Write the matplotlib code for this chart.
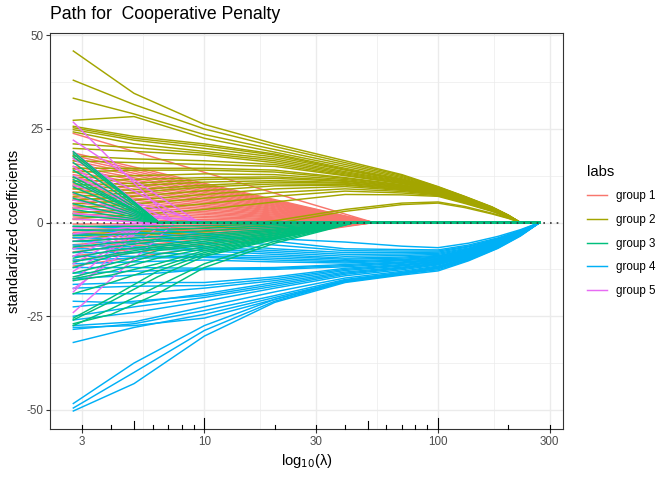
import numpy as np
import matplotlib.pyplot as plt
from matplotlib.lines import Line2D
import matplotlib.transforms as mtransforms

plt.rcParams['font.family'] = ['Liberation Sans', 'DejaVu Sans']
plt.rcParams['axes.unicode_minus'] = False

groups = ['group 1', 'group 2', 'group 3', 'group 4', 'group 5']
colours = ['#F8766D', '#A3A500', '#00BF7D', '#00B0F6', '#E76BF3']

lam_start = 2.75
lam_end = 272.0

# group 1: straight fans, all reach zero at red_zero
red_start = [23.8, 18.6, 17.9, 17.2, 16.5, 15.8, 15.0, 14.3, 13.5, 12.8, 12.0,
             11.2, 10.5, 9.7, 9.0, 8.2, 7.5, 6.7, 6.0, 5.2, 4.5, 3.8, 3.0, 2.3,
             1.5, 0.8, -0.4, -1.1, -1.9, -2.6, -3.4, -4.2, -5.0, -5.9, -6.8,
             -7.8, -8.9, -10.1, -11.6]
red_zero = 53.0

# group 2: values at olive_knots
olive_knots = [2.75, 5, 10, 20, 40, 70, 100, 130, 170, 200, 225]
olive_vals = [
    [45.8, 34.5, 26.2, 21.0, 16.5, 12.8, 9.6, 7.0, 4.2, 2.0, 0],
    [38.0, 31.5, 25.0, 20.3, 16.0, 12.6, 9.5, 6.9, 4.1, 1.9, 0],
    [33.2, 29.0, 23.5, 19.5, 15.5, 12.3, 9.4, 6.9, 4.1, 1.9, 0],
    [27.3, 28.3, 22.5, 18.8, 15.0, 12.0, 9.3, 6.8, 4.0, 1.9, 0],
    [25.7, 23.0, 21.0, 18.3, 14.5, 11.7, 9.2, 6.7, 4.0, 1.8, 0],
    [25.3, 22.5, 20.5, 18.0, 14.2, 11.5, 9.1, 6.6, 3.9, 1.8, 0],
    [24.8, 22.0, 19.8, 17.5, 14.0, 11.3, 9.0, 6.6, 3.9, 1.8, 0],
    [24.2, 21.0, 19.0, 17.0, 13.6, 11.1, 8.9, 6.5, 3.8, 1.8, 0],
    [21.0, 20.0, 18.5, 16.5, 13.3, 10.9, 8.8, 6.4, 3.8, 1.8, 0],
    [19.8, 19.0, 18.0, 16.0, 13.0, 10.7, 8.7, 6.4, 3.7, 1.7, 0],
    [17.8, 17.0, 16.5, 15.5, 12.7, 10.5, 8.6, 6.3, 3.7, 1.7, 0],
    [16.5, 16.0, 15.5, 15.0, 12.5, 10.4, 8.5, 6.2, 3.7, 1.7, 0],
    [14.5, 14.5, 14.5, 14.0, 12.0, 10.1, 8.4, 6.1, 3.6, 1.7, 0],
    [13.5, 14.0, 14.0, 13.5, 11.8, 10.0, 8.3, 6.1, 3.6, 1.7, 0],
    [12.0, 12.5, 13.0, 12.8, 11.5, 9.8, 8.2, 6.0, 3.5, 1.6, 0],
    [11.0, 11.5, 12.0, 12.2, 11.2, 9.6, 8.1, 5.9, 3.5, 1.6, 0],
    [10.0, 10.5, 11.5, 11.8, 11.0, 9.5, 8.0, 5.8, 3.4, 1.6, 0],
    [9.0, 9.8, 10.8, 11.2, 10.7, 9.3, 7.9, 5.8, 3.4, 1.6, 0],
    [8.0, 8.8, 10.0, 10.8, 10.5, 9.1, 7.8, 5.7, 3.4, 1.6, 0],
    [7.0, 8.0, 9.5, 10.3, 10.2, 8.9, 7.7, 5.6, 3.3, 1.5, 0],
    [6.0, 7.0, 8.5, 9.8, 10.0, 8.8, 7.6, 5.5, 3.3, 1.5, 0],
    [5.0, 6.0, 7.5, 9.0, 9.6, 8.6, 7.5, 5.5, 3.2, 1.5, 0],
    [4.0, 5.0, 6.5, 8.0, 9.0, 8.3, 7.4, 5.4, 3.2, 1.5, 0],
    [2.5, 3.5, 5.0, 7.0, 8.4, 7.9, 7.2, 5.3, 3.1, 1.4, 0],
    [1.0, 2.0, 3.5, 5.5, 7.5, 7.4, 7.0, 5.1, 3.0, 1.4, 0],
    [-3.0, -2.5, -1.5, 0.5, 3.5, 5.2, 5.5, 4.3, 2.5, 1.2, 0],
    [-4.0, -3.5, -2.5, -0.3, 3.0, 4.8, 5.2, 4.0, 2.3, 1.1, 0],
]

# group 3: a fast fan (zero near 6.4) and a slow set with values at green_knots
green_fast_start = [18.9, 18.3, 17.6, 16.0, 14.0, 12.2, 11.5, 10.8, 9.5, 8.0,
                    6.5, 5.0, 3.5, 2.0]
green_fast_zero = 6.4
green_knots = [2.75, 4, 6.3, 10, 20, 44]
green_vals = [
    [-27.5, -23.0, -17.0, -11.0, -5.0, 0],
    [-27.0, -24.5, -19.0, -12.0, -5.5, 0],
    [-26.0, -21.0, -14.5, -9.0, -4.5, 0],
    [-25.5, -20.0, -13.0, -8.5, -4.3, 0],
    [-19.0, -16.0, -12.0, -8.0, -4.1, 0],
    [-15.5, -14.0, -11.0, -7.5, -4.0, 0],
    [-15.0, -13.0, -9.5, -7.0, -3.8, 0],
    [-14.5, -12.0, -8.5, -6.5, -3.5, 0],
    [-13.5, -11.0, -7.5, -6.0, -3.3, 0],
    [-12.0, -9.0, -7.0, -5.5, -3.0, 0],
    [-10.5, -8.5, -6.5, -5.0, -2.8, 0],
    [-9.5, -7.5, -6.0, -4.5, -2.5, 0],
    [-8.0, -6.5, -5.0, -4.0, -2.2, 0],
    [-6.5, -5.5, -4.5, -3.5, -2.0, 0],
    [-5.0, -4.5, -3.8, -3.0, -1.7, 0],
    [-3.5, -3.2, -2.8, -2.2, -1.3, 0],
    [-2.0, -2.0, -1.8, -1.5, -0.9, 0],
    [-1.0, -1.0, -1.0, -0.8, -0.5, 0],
]

# group 4: values at blue_knots
blue_knots = [2.75, 5, 10, 20, 40, 70, 100, 135, 180, 225, 272]
blue_vals = [
    [-50.3, -43.0, -30.3, -21.3, -16.0, -14.0, -12.9, -10.2, -6.9, -3.6, 0],
    [-49.5, -40.0, -28.8, -21.0, -15.7, -13.7, -12.6, -10.0, -6.8, -3.5, 0],
    [-48.3, -37.5, -27.5, -20.5, -15.4, -13.4, -12.3, -9.8, -6.6, -3.4, 0],
    [-32.0, -28.0, -24.5, -20.0, -15.5, -13.6, -12.0, -9.6, -6.5, -3.3, 0],
    [-28.5, -27.0, -23.5, -19.5, -15.2, -13.3, -11.8, -9.4, -6.4, -3.3, 0],
    [-28.0, -27.5, -25.5, -20.5, -15.8, -13.8, -12.1, -9.7, -6.5, -3.4, 0],
    [-27.5, -26.5, -22.5, -18.5, -14.8, -13.0, -11.6, -9.3, -6.3, -3.2, 0],
    [-26.0, -24.0, -21.0, -17.5, -14.2, -12.6, -11.3, -9.1, -6.2, -3.2, 0],
    [-25.0, -22.5, -20.0, -17.0, -13.8, -12.3, -11.1, -9.0, -6.1, -3.1, 0],
    [-22.5, -21.0, -19.5, -16.5, -13.5, -12.1, -10.9, -8.8, -6.0, -3.1, 0],
    [-21.0, -21.5, -19.0, -16.0, -13.2, -11.9, -10.8, -8.7, -5.9, -3.0, 0],
    [-19.0, -19.0, -17.5, -15.5, -12.8, -11.6, -10.6, -8.6, -5.8, -3.0, 0],
    [-17.5, -17.0, -16.8, -15.0, -12.5, -11.4, -10.4, -8.4, -5.7, -2.9, 0],
    [-16.5, -16.0, -16.0, -14.5, -12.2, -11.2, -10.3, -8.3, -5.6, -2.9, 0],
    [-15.0, -14.0, -12.5, -12.5, -11.8, -10.9, -10.1, -8.2, -5.5, -2.8, 0],
    [-13.5, -13.0, -12.5, -12.2, -11.5, -10.7, -9.9, -8.0, -5.4, -2.8, 0],
    [-12.0, -12.0, -12.2, -12.0, -11.2, -10.5, -9.8, -7.9, -5.4, -2.8, 0],
    [-11.0, -10.5, -10.0, -10.5, -10.8, -10.2, -9.6, -7.8, -5.3, -2.7, 0],
    [-10.0, -9.5, -9.3, -10.0, -10.5, -10.0, -9.4, -7.6, -5.2, -2.7, 0],
    [-9.0, -9.0, -9.0, -9.5, -10.2, -9.8, -9.2, -7.5, -5.1, -2.6, 0],
    [-8.0, -8.0, -8.5, -9.0, -9.8, -9.5, -9.0, -7.3, -5.0, -2.6, 0],
    [-7.0, -7.0, -7.5, -8.5, -9.5, -9.2, -8.8, -7.2, -4.9, -2.5, 0],
    [-6.0, -6.5, -7.0, -8.0, -9.0, -8.8, -8.5, -7.0, -4.8, -2.5, 0],
    [-5.0, -5.5, -6.5, -7.5, -8.5, -8.4, -8.2, -6.8, -4.6, -2.4, 0],
    [-4.0, -4.5, -5.5, -7.0, -8.0, -8.0, -7.9, -6.5, -4.5, -2.3, 0],
    [-3.0, -3.5, -4.5, -6.0, -7.5, -7.6, -7.6, -6.3, -4.3, -2.2, 0],
    [-2.0, -2.5, -4.0, -4.3, -5.2, -6.3, -6.7, -5.5, -3.7, -1.9, 0],
    [-1.0, -1.5, -3.0, -5.0, -7.0, -7.2, -7.3, -6.0, -4.1, -2.1, 0],
]

# group 5: straight fans, each with its own zero point
mag_start = [26.8, 22.0, 19.0, 17.0, 15.0, 12.5, 10.0, 8.0, 6.0, 4.0, 2.5,
             1.0, -1.5, -3.0, -5.0, -7.0, -9.0, -11.0, -13.0, -15.5, -17.7,
             -18.5, -24.0]
mag_zero = [7.4, 9.5, 6.5, 9.0, 6.0, 7.5, 10.0, 6.0, 8.0, 11.0, 6.5, 5.8,
            6.0, 7.0, 6.5, 6.0, 5.8, 5.8, 6.0, 5.6, 6.8, 5.7, 7.5]


def fan_paths(starts, zeros):
    out = []
    for v, z in zip(starts, zeros):
        out.append(([lam_start, z, lam_end], [v, 0, 0]))
    return out


def knot_paths(knots, rows):
    out = []
    for row in rows:
        xs = list(knots)
        ys = list(row)
        if xs[-1] < lam_end:
            xs.append(lam_end)
            ys.append(0)
        out.append((xs, ys))
    return out


paths = {
    0: fan_paths(red_start, [red_zero] * len(red_start)),
    1: knot_paths(olive_knots, olive_vals),
    3: knot_paths(blue_knots, blue_vals),
    4: fan_paths(mag_start, mag_zero),
    2: fan_paths(green_fast_start, [green_fast_zero] * len(green_fast_start))
       + knot_paths(green_knots, green_vals),
}

fig = plt.figure(figsize=(6.72, 4.8), dpi=100)
ax = fig.add_axes([50 / 672, 1 - 429 / 480, 513 / 672, 396 / 480])

for g in [0, 1, 3, 4, 2]:
    for xs, ys in paths[g]:
        ax.plot(xs, ys, color=colours[g], lw=1.05, solid_joinstyle='round')

ax.axhline(0, color='0.2', lw=1.2, dashes=(1, 3), zorder=5)

ax.set_xscale('log')
all_y = [v for g in paths for _, ys in paths[g] for v in ys]
lo, hi = np.log10(lam_start), np.log10(lam_end)
pad = 0.05 * (hi - lo)
ax.set_xlim(10 ** (lo - pad), 10 ** (hi + pad))
ymin, ymax = min(all_y), max(all_y)
ypad = 0.05 * (ymax - ymin)
ax.set_ylim(ymin - ypad, ymax + ypad)

xt = [3, 10, 30, 100, 300]
ax.set_xticks(xt)
ax.set_xticklabels([str(t) for t in xt])
ax.set_xticks([np.sqrt(a * b) for a, b in zip(xt[:-1], xt[1:])], minor=True)
ax.set_yticks([-50, -25, 0, 25, 50])
ax.set_yticks([-37.5, -12.5, 12.5, 37.5], minor=True)

ax.grid(True, which='major', color='#EBEBEB', lw=1.0)
ax.grid(True, which='minor', color='#EBEBEB', lw=0.5)
ax.set_axisbelow(True)
ax.tick_params(which='major', length=2.7, width=0.8, color='#333333',
               labelcolor='#4D4D4D', labelsize=8.4, pad=2)
ax.tick_params(which='minor', length=0)
for s in ax.spines.values():
    s.set_color('#333333')
    s.set_linewidth(0.8)

# log ticks along the bottom
trans = mtransforms.blended_transform_factory(ax.transData, ax.transAxes)
for dec in [1, 10, 100]:
    for m in range(1, 10):
        t = m * dec
        if t < ax.get_xlim()[0] or t > ax.get_xlim()[1]:
            continue
        h = 0.0285 if m == 1 else (0.019 if m == 5 else 0.0096)
        ax.plot([t, t], [0, h], color='black', lw=0.8, transform=trans,
                clip_on=False, zorder=6)

ax.set_xlabel(r'log$_{10}$(λ)', fontsize=10.6, labelpad=3)
ax.set_ylabel('standardized coefficients', fontsize=10.6, labelpad=4)
ax.set_title('Path for  Cooperative Penalty', fontsize=12.7, loc='left', pad=10)

handles = [Line2D([], [], color=c, lw=1.05) for c in colours]
fig.legend(handles, groups, loc='upper left', bbox_to_anchor=(582 / 672, 1 - 160 / 480),
           frameon=False, title='labs', fontsize=8.4, title_fontsize=10.6,
           handlelength=1.7, labelspacing=1.0, alignment='left', borderaxespad=0)

fig.savefig('out.png', dpi=100)
